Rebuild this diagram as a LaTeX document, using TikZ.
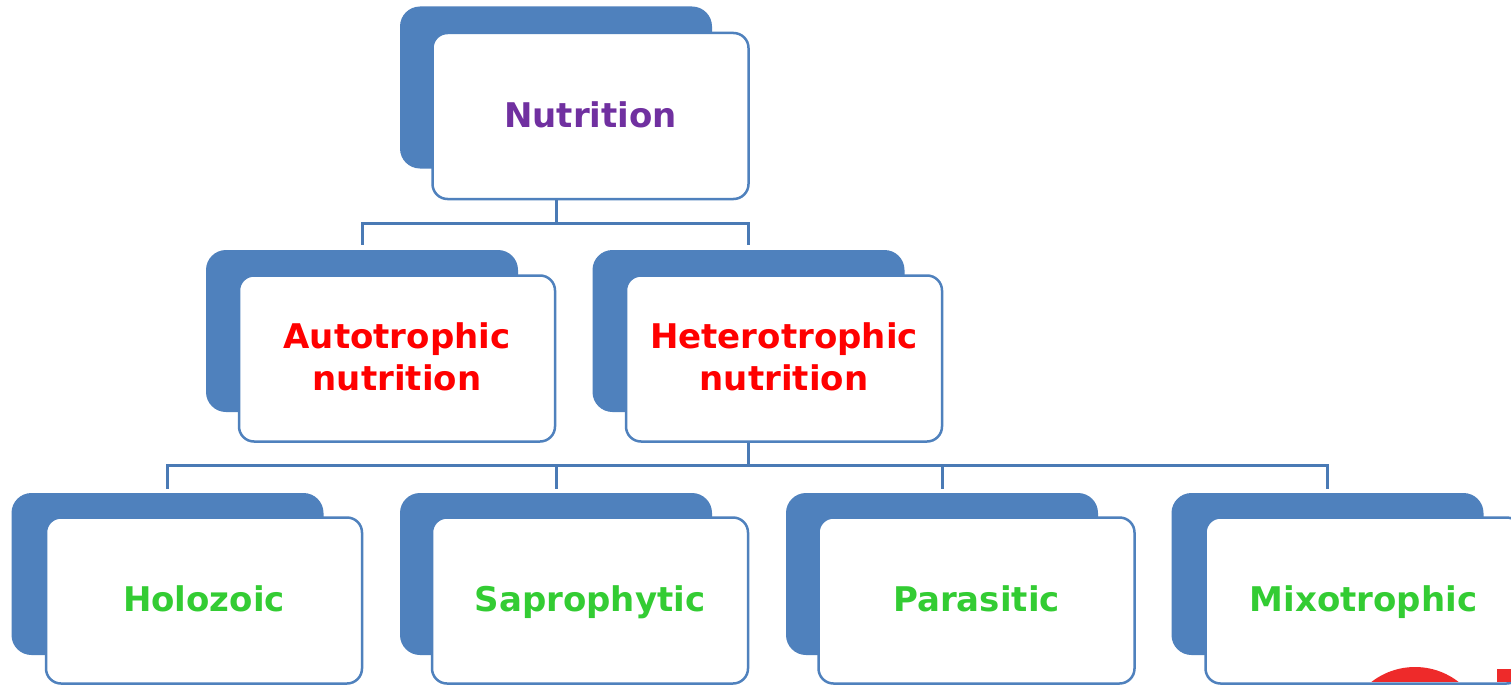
\documentclass[tikz,border=0pt]{standalone}
\usepackage{fontspec}
\setmainfont{DejaVu Sans}
\usetikzlibrary{calc}
\definecolor{boxblue}{HTML}{4F81BD}
\definecolor{edgeblue}{HTML}{4F81BD}
\definecolor{lineblue}{HTML}{4A7AB5}
\definecolor{txtpurple}{HTML}{7030A0}
\definecolor{txtred}{HTML}{FF0000}
\definecolor{txtgreen}{HTML}{33CC33}
\definecolor{logored}{HTML}{EE2A2A}
\newcommand{\lnstrut}{\rule[-9pt]{0pt}{40pt}}
\tikzset{
  backbox/.style={rectangle, rounded corners=20pt, fill=boxblue, draw=none,
    minimum width=312pt, minimum height=162pt, inner sep=0pt},
  frontbox/.style={rectangle, rounded corners=15pt, fill=white, draw=edgeblue,
    line width=2.5pt, minimum width=316pt, minimum height=166pt, inner sep=0pt,
    align=center, font=\fontsize{34}{42}\selectfont\bfseries},
  conn/.style={draw=lineblue, line width=3pt},
}
\begin{document}
\begin{tikzpicture}[x=1pt,y=-1pt]
\clip (0,0) rectangle (1511,685);
\fill[white] (0,0) rectangle (1511,685);
% back boxes
\node[backbox] (nutB) at (556,87.5) {};
\node[backbox] (autB) at (362,331) {};
\node[backbox] (hetB) at (748.5,331) {};
\node[backbox] (holB) at (167.5,574) {};
\node[backbox] (sapB) at (556,574) {};
\node[backbox] (parB) at (942,574) {};
\node[backbox] (mixB) at (1327.5,574) {};
% front boxes
\node[frontbox, text=txtpurple] (nut) at (590.5,116) {\lnstrut Nutrition};
\node[frontbox, text=txtred] (aut) at (397,358.5) {\lnstrut Autotrophic\\\lnstrut nutrition};
\node[frontbox, text=txtred] (het) at (784,358.5) {\lnstrut Heterotrophic\\\lnstrut nutrition};
\node[frontbox, text=txtgreen] (hol) at (204,600.5) {\lnstrut Holozoic};
\node[frontbox, text=txtgreen] (sap) at (590,600.5) {\lnstrut Saprophytic};
\node[frontbox, text=txtgreen] (par) at (976.5,600.5) {\lnstrut Parasitic};
\node[frontbox, text=txtgreen] (mix) at (1363.5,600.5) {\lnstrut Mixotrophic};
% connectors level 1
\coordinate (j1) at ($(nutB.center |- nut.south)+(0,23)$);
\draw[conn] (nutB.center |- nut.south) -- (j1);
\draw[conn, shorten >=5pt] (j1) -| (autB.north);
\draw[conn, shorten >=5pt] (j1) -| (hetB.north);
% connectors level 2
\coordinate (j2) at ($(hetB.center |- het.south)+(0,23)$);
\draw[conn] (hetB.center |- het.south) -- (j2);
\draw[conn, shorten >=4pt] (j2) -| (holB.north);
\draw[conn, shorten >=4pt] (j2) -| (sapB.north);
\draw[conn, shorten >=4pt] (j2) -| (parB.north);
\draw[conn, shorten >=4pt] (j2) -| (mixB.north);
% partial red logo at the bottom right
\begin{scope}
\clip (1205,600) rectangle (1511,681.5);
\fill[logored] (1415,738) circle (71);
\fill[logored] (1497,669) rectangle (1515,690);
\end{scope}
\end{tikzpicture}
\end{document}
